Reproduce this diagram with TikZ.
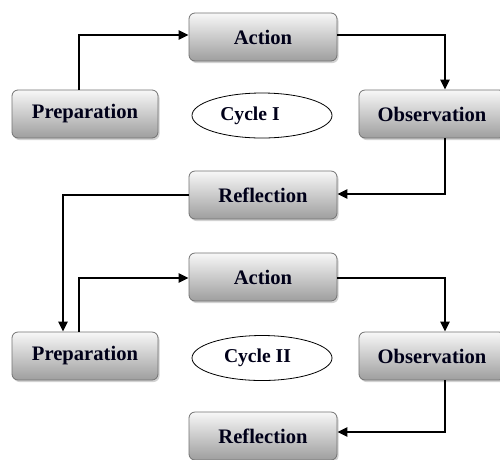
\documentclass[tikz,border=0pt]{standalone}
\usepackage{fontspec}
\setmainfont{Liberation Serif}
\usetikzlibrary{shadows,arrows.meta,shapes.geometric}
\tikzset{
  stagebox/.style={draw=black!55, line width=0.8pt, rounded corners=6pt,
    top color=black!3, bottom color=black!38, minimum height=48pt,
    font=\fontsize{20.6}{23}\selectfont\bfseries, inner sep=0pt,
    text=black!90!blue,
    drop shadow={opacity=0.35, shadow xshift=1.5pt, shadow yshift=-2pt}},
  cyclebox/.style={draw=black, line width=0.8pt, ellipse, fill=white,
    minimum width=140pt, minimum height=45pt, inner sep=0pt,
    text=black!90!blue,
    font=\fontsize{19.6}{22}\selectfont\bfseries},
  flow/.style={line width=2.8pt, -{Triangle[length=10pt,width=9pt]}}
}
\begin{document}
\begin{tikzpicture}[x=1pt,y=-1pt]
\useasboundingbox (0,0) rectangle (500,459);
\clip (0,0) rectangle (500,459);
\fill[white] (0,0) rectangle (500,459);
% Cycle I
\node[stagebox, minimum width=146pt] (prep1) at (85,114) {Preparation};
\node[stagebox, minimum width=148pt] (act1) at (263,37) {Action};
\node[stagebox, minimum width=146pt] (obs1) at (432,114) {Observation};
\node[stagebox, minimum width=148pt] (ref1) at (263,195) {Reflection};
\node[cyclebox] (cyc1) at (262,115.5) {Cycle I\hspace*{24pt}};
% Cycle II
\node[stagebox, minimum width=146pt] (prep2) at (85,356) {Preparation};
\node[stagebox, minimum width=148pt] (act2) at (263,277) {Action};
\node[stagebox, minimum width=146pt] (obs2) at (432,356) {Observation};
\node[stagebox, minimum width=148pt] (ref2) at (263,436) {Reflection};
\node[cyclebox] (cyc2) at (262,358) {Cycle II\hspace*{9pt}};
% connectors
\coordinate (p1) at (79,35);
\coordinate (a1) at (445,35);
\coordinate (o1) at (445,194);
\coordinate (r1) at (63,195);
\coordinate (p2) at (79,278);
\coordinate (a2) at (445,278);
\coordinate (o2) at (445,432);
\draw[flow] (p1 |- prep1.north) -- (p1) -- (act1.west |- p1);
\draw[flow] (act1.east |- a1) -- (a1) -- (a1 |- obs1.north);
\draw[flow] (o1 |- obs1.south) -- (o1) -- (ref1.east |- o1);
\draw[flow] (ref1.west |- r1) -- (r1) -- (r1 |- prep2.north);
\draw[flow] (p2 |- prep2.north) -- (p2) -- (act2.west |- p2);
\draw[flow] (act2.east |- a2) -- (a2) -- (a2 |- obs2.north);
\draw[flow] (o2 |- obs2.south) -- (o2) -- (ref2.east |- o2);
\end{tikzpicture}
\end{document}
